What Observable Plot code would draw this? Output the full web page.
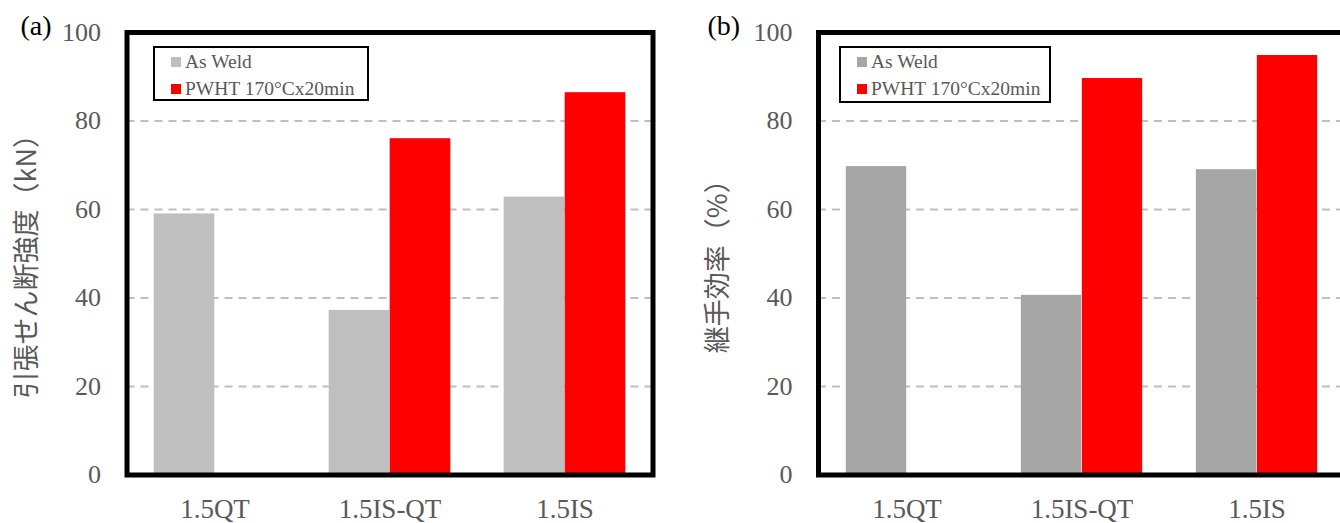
<!DOCTYPE html>
<html>
<head>
<meta charset="utf-8">
<script src="https://cdn.jsdelivr.net/npm/d3@7"></script>
<script src="https://cdn.jsdelivr.net/npm/@observablehq/plot@0.6"></script>
<style>
  html, body { margin: 0; padding: 0; background: #fff; overflow: hidden; }
  body { width: 1340px; height: 523px; position: relative; }
  .panel { position: absolute; top: 0; }
  .panel svg { max-width: none !important; display: block; }
  .legend {
    position: absolute; box-sizing: border-box; border: 2px solid #000; background: #fff;
    font-family: "Liberation Serif", serif; font-size: 19.5px; color: #595959;
    padding: 0 0 0 16px; line-height: 27px;
  }
  .legend .item { display: flex; align-items: center; white-space: nowrap; }
  .legend .sw { width: 10px; height: 10px; margin-right: 4px; display: inline-block; }
</style>
</head>
<body>
<script>
// Joint categories and measured values for each treatment
const categories = ["1.5QT", "1.5IS-QT", "1.5IS"];
const seriesNames = ["As Weld", "PWHT 170°Cx20min"];
const strengthAsWeld = [59, 37.2, 62.8];       // tensile shear strength, kN
const strengthPWHT = [null, 76, 86.4];
const efficiencyAsWeld = [69.7, 40.6, 69.0];   // joint efficiency, %
const efficiencyPWHT = [null, 89.6, 94.8];
const yTicks = [0, 20, 40, 60, 80, 100];
const gridTicks = [20, 40, 60, 80];

function rows(values) {
  return categories.map((c, i) => ({category: c, value: values[i]})).filter(d => d.value != null);
}

function panel({tag, title, asWeld, pwht, grayColor, left, width, marginLeft, marginRight, titleX, titleDy, tagX, legendPos}) {
  const barW = 61;
  const plotW = width - marginLeft - marginRight;
  const band = plotW / categories.length;
  const outer = (band - 2 * barW) / 2;
  const chart = Plot.plot({
    width,
    height: 523,
    marginLeft,
    marginRight,
    marginTop: 32,
    marginBottom: 48.5,
    style: {fontFamily: "'Liberation Serif', serif", fontSize: "26px", color: "#595959", background: "transparent", overflow: "visible"},
    x: {domain: categories, padding: 0, tickSize: 0, tickPadding: 24, label: null, tickFormat: d => d},
    y: {domain: [0, 100], ticks: yTicks, tickSize: 0, tickPadding: 26, label: null},
    marks: [
      Plot.ruleY(gridTicks, {stroke: "#bfbfbf", strokeWidth: 2, strokeDasharray: "8,6"}),
      Plot.barY(rows(asWeld), {x: "category", y: "value", fill: grayColor, insetLeft: outer, insetRight: band - outer - barW}),
      Plot.barY(rows(pwht), {x: "category", y: "value", fill: "#ff0000", insetLeft: outer + barW, insetRight: outer}),
      Plot.frame({stroke: "#000", strokeWidth: 5}),
      Plot.text([title], {frameAnchor: "left", dx: -marginLeft + titleX, dy: titleDy, rotate: -90, textAnchor: "middle", lineAnchor: "middle",
        fontFamily: "'Noto Sans CJK JP', sans-serif", fontSize: 27, fill: "#595959"}),
      Plot.text([tag], {frameAnchor: "top-left", dx: -marginLeft + tagX, dy: -6, textAnchor: "start", lineAnchor: "middle",
        fontSize: 28, fill: "#000"})
    ]
  });
  chart.querySelectorAll("g[aria-label='x-axis tick label'] text, g[aria-label='x-axis'] text").forEach(t => t.style.fontSize = "27px");
  const wrap = document.createElement("div");
  wrap.className = "panel";
  wrap.style.left = left + "px";
  wrap.style.width = width + "px";
  wrap.appendChild(chart);

  const legend = document.createElement("div");
  legend.className = "legend";
  Object.assign(legend.style, legendPos);
  [[seriesNames[0], grayColor], [seriesNames[1], "#ff0000"]].forEach(([name, color]) => {
    const item = document.createElement("div");
    item.className = "item";
    const sw = document.createElement("span");
    sw.className = "sw";
    sw.style.background = color;
    item.appendChild(sw);
    item.appendChild(document.createTextNode(name));
    legend.appendChild(item);
  });
  wrap.appendChild(legend);
  document.body.appendChild(wrap);
}

panel({
  tag: "(a)", title: "引張せん断強度（kN）",
  asWeld: strengthAsWeld, pwht: strengthPWHT, grayColor: "#bfbfbf",
  left: 0, width: 670, marginLeft: 126.5, marginRight: 17.5, titleX: 27, titleDy: 6, tagX: 20,
  legendPos: {left: "153px", top: "46px", width: "216px", height: "55px"}
});

panel({
  tag: "(b)", title: "継手効率（%）",
  asWeld: efficiencyAsWeld, pwht: efficiencyPWHT, grayColor: "#a6a6a6",
  left: 690, width: 680, marginLeft: 128, marginRight: 25, titleX: 28, titleDy: 6, tagX: 17,
  legendPos: {left: "149px", top: "46px", width: "212px", height: "57px"}
});
</script>
</body>
</html>
